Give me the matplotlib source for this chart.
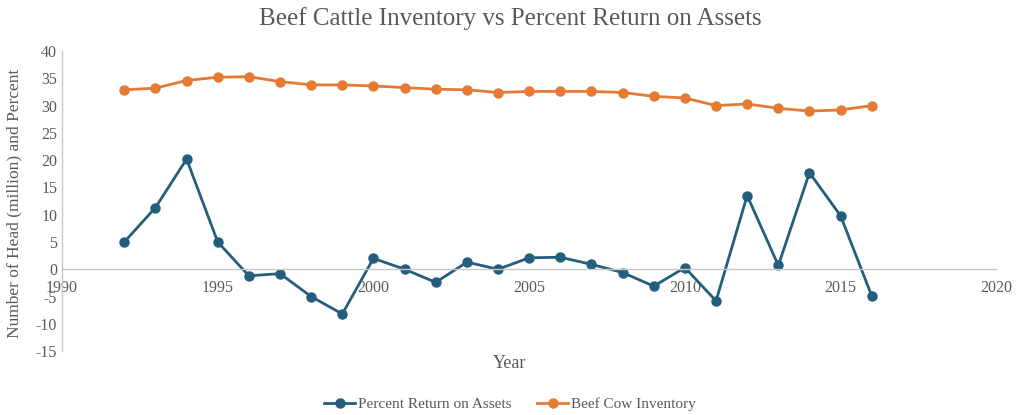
import matplotlib
matplotlib.use("Agg")
import matplotlib.pyplot as plt

years = list(range(1992, 2017))
return_on_assets = [5.0, 11.3, 20.2, 5.0, -1.2, -0.8, -5.0, -8.2, 2.0, 0.0,
                    -2.4, 1.3, 0.0, 2.1, 2.2, 0.9, -0.6, -3.1, 0.3, -5.8,
                    13.5, 0.7, 17.7, 9.8, -4.9]
cow_inventory = [32.9, 33.2, 34.6, 35.2, 35.3, 34.4, 33.8, 33.8, 33.6, 33.3,
                 33.0, 32.9, 32.4, 32.6, 32.6, 32.6, 32.4, 31.7, 31.4, 30.0,
                 30.3, 29.5, 29.0, 29.2, 30.0]
x_ticks = [1990, 1995, 2000, 2005, 2010, 2015, 2020]
y_ticks = [40, 35, 30, 25, 20, 15, 10, 5, 0, -5, -10, -15]

plt.rcParams['font.family'] = ['Liberation Serif', 'DejaVu Serif']
plt.rcParams['axes.unicode_minus'] = False
text_gray = "#595959"
axis_gray = "#C8C8C8"
blue = "#235E7D"
orange = "#E57A35"

fig = plt.figure(figsize=(10.2, 4.15), dpi=100)
ax = fig.add_axes([0.0608, 0.154, 0.916, 0.723])

ax.plot(years, return_on_assets, color=blue, lw=2.0, marker='o', ms=6.5,
        label="Percent Return on Assets")
ax.plot(years, cow_inventory, color=orange, lw=2.0, marker='o', ms=6.5,
        label="Beef Cow Inventory")

ax.set_xlim(1990, 2020)
ax.set_ylim(-15, 40)
ax.set_xticks(x_ticks)
ax.set_yticks(y_ticks)
ax.tick_params(length=0, labelsize=11.5, colors=text_gray)
ax.tick_params(axis='x', pad=8)

for side in ("top", "right"):
    ax.spines[side].set_visible(False)
ax.spines['bottom'].set_position(('data', 0))
ax.spines['bottom'].set_color(axis_gray)
ax.spines['left'].set_color(axis_gray)
ax.spines['bottom'].set_linewidth(1.0)
ax.spines['left'].set_linewidth(1.0)

fig.text(0.5, 0.955, "Beef Cattle Inventory vs Percent Return on Assets",
         ha='center', va='center', fontsize=18, color=text_gray)
fig.text(0.5, 0.125, "Year", ha='center', va='center', fontsize=13, color=text_gray)
fig.text(0.014, 0.51, "Number of Head (million) and Percent", rotation=90,
         ha='center', va='center', fontsize=12.5, color=text_gray)

leg = fig.legend(loc='center', bbox_to_anchor=(0.5, 0.026), ncol=2, frameon=False,
                 fontsize=11, handlelength=2.0, columnspacing=1.7, handletextpad=0.2)
for t in leg.get_texts():
    t.set_color(text_gray)

fig.savefig("out.png", dpi=100)
